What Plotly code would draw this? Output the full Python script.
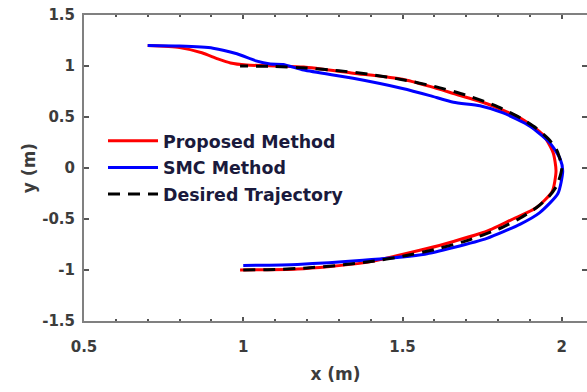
import plotly.graph_objects as go

# Proposed method (red)
prop_x = [0.70, 0.80, 0.87, 0.92, 0.96, 1.01, 1.11, 1.19, 1.345, 1.50, 1.586, 1.66, 1.765,
          1.87, 1.94, 1.973, 1.982, 1.97, 1.92, 1.847, 1.765, 1.66, 1.577, 1.376, 1.17, 0.99]
prop_y = [1.20, 1.18, 1.13, 1.07, 1.03, 1.01, 1.00, 0.99, 0.93, 0.87, 0.80, 0.73, 0.63,
          0.49, 0.33, 0.15, -0.03, -0.23, -0.39, -0.50, -0.62, -0.72, -0.79, -0.93, -0.99, -1.00]

# SMC method (blue)
smc_x = [0.70, 0.80, 0.905, 0.98, 1.04, 1.085, 1.125, 1.19, 1.345, 1.50, 1.586, 1.66, 1.743,
         1.816, 1.90, 1.963, 1.995, 2.003, 1.988, 1.93, 1.87, 1.765, 1.66, 1.57, 1.376, 1.17, 1.00]
smc_y = [1.20, 1.195, 1.175, 1.12, 1.05, 1.02, 1.015, 0.96, 0.88, 0.78, 0.71, 0.645, 0.61,
         0.54, 0.41, 0.245, 0.09, -0.03, -0.25, -0.44, -0.55, -0.69, -0.78, -0.845, -0.905, -0.945, -0.955]

# Desired trajectory (black dashed)
des_x = [1.00, 1.10, 1.20, 1.30, 1.40, 1.50, 1.60, 1.70, 1.80, 1.87, 1.92, 1.96, 1.985, 2.00,
         1.985, 1.96, 1.92, 1.87, 1.80, 1.70, 1.60, 1.50, 1.40, 1.30, 1.20, 1.10, 0.99]
des_y = [-1.00, -0.995, -0.98, -0.954, -0.917, -0.866, -0.80, -0.714, -0.60, -0.49, -0.39, -0.28, -0.17, 0.00,
         0.17, 0.28, 0.39, 0.49, 0.60, 0.714, 0.80, 0.866, 0.917, 0.954, 0.98, 0.995, 1.00]

x_ticks = [0.5, 1, 1.5, 2]
x_ticklabels = ["0.5", "1", "1.5", "2"]
y_ticks = [-1.5, -1, -0.5, 0, 0.5, 1, 1.5]
y_ticklabels = ["-1.5", "-1", "-0.5", "0", "0.5", "1", "1.5"]

fig = go.Figure()
fig.add_trace(go.Scatter(x=prop_x, y=prop_y, mode="lines", name="Proposed Method", legendgroup="a",
                         line=dict(color="#ff0000", width=3, shape="spline", smoothing=0.6)))
fig.add_trace(go.Scatter(x=smc_x, y=smc_y, mode="lines", name="SMC Method", legendgroup="b",
                         line=dict(color="#0000ff", width=3, shape="spline", smoothing=0.6)))
fig.add_trace(go.Scatter(x=des_x, y=des_y, mode="lines", name="Desired Trajectory", legendgroup="c",
                         line=dict(color="#000000", width=3, dash="12px,8px", shape="spline", smoothing=0.6)))

tickfont = dict(family="DejaVu Sans", size=15, color="#3c3c3c", weight="bold")
titlefont = dict(family="DejaVu Sans", size=17, color="#3c3c3c", weight="bold")

W, H = 587, 392
L, T, B = 84, 15, 71
PW, PH = W - L, H - T - B

fig.update_layout(
    width=W, height=H,
    margin=dict(l=L, r=0, t=T, b=B, autoexpand=False),
    paper_bgcolor="white", plot_bgcolor="white",
    font=dict(family="DejaVu Sans"),
    showlegend=True,
    legend=dict(x=(103 - 84) / PW, y=1 - (123 - 15) / PH, xanchor="left", yanchor="top",
                bgcolor="rgba(0,0,0,0)", borderwidth=0,
                font=dict(family="DejaVu Sans", size=17.4, color="#1a1a3c", weight="bold"),
                itemwidth=50, tracegroupgap=1),
    xaxis=dict(range=[0.5, 0.5 + PW / 318.5], tickvals=x_ticks, ticktext=x_ticklabels,
               ticks="inside", ticklen=4, tickwidth=2, tickcolor="#555555",
               minor=dict(dtick=0.1, tick0=0.5, ticks="inside", ticklen=2, tickwidth=2, tickcolor="#555555"),
               showline=True, linecolor="#808080", linewidth=2, mirror="ticks",
               showgrid=False, zeroline=False, ticklabelstandoff=11, ticklabeloverflow="allow",
               tickfont=tickfont,
               title=dict(text="x (m)", font=titlefont, standoff=13)),
    yaxis=dict(range=[-1.5, 1.5], tickvals=y_ticks, ticktext=y_ticklabels,
               ticks="inside", ticklen=5, tickwidth=2, tickcolor="#555555",
               showline=True, linecolor="#808080", linewidth=2, mirror="ticks",
               showgrid=False, zeroline=False, ticklabelstandoff=4, ticklabeloverflow="allow",
               tickfont=tickfont,
               title=dict(text="y (m)", font=titlefont, standoff=2)),
)

# remove the default page margin so the figure sits at the window's top-left corner
fig.write_html("out.html", config={"displayModeBar": False},
               post_script="document.body.style.margin='0';document.body.style.overflow='hidden';")
